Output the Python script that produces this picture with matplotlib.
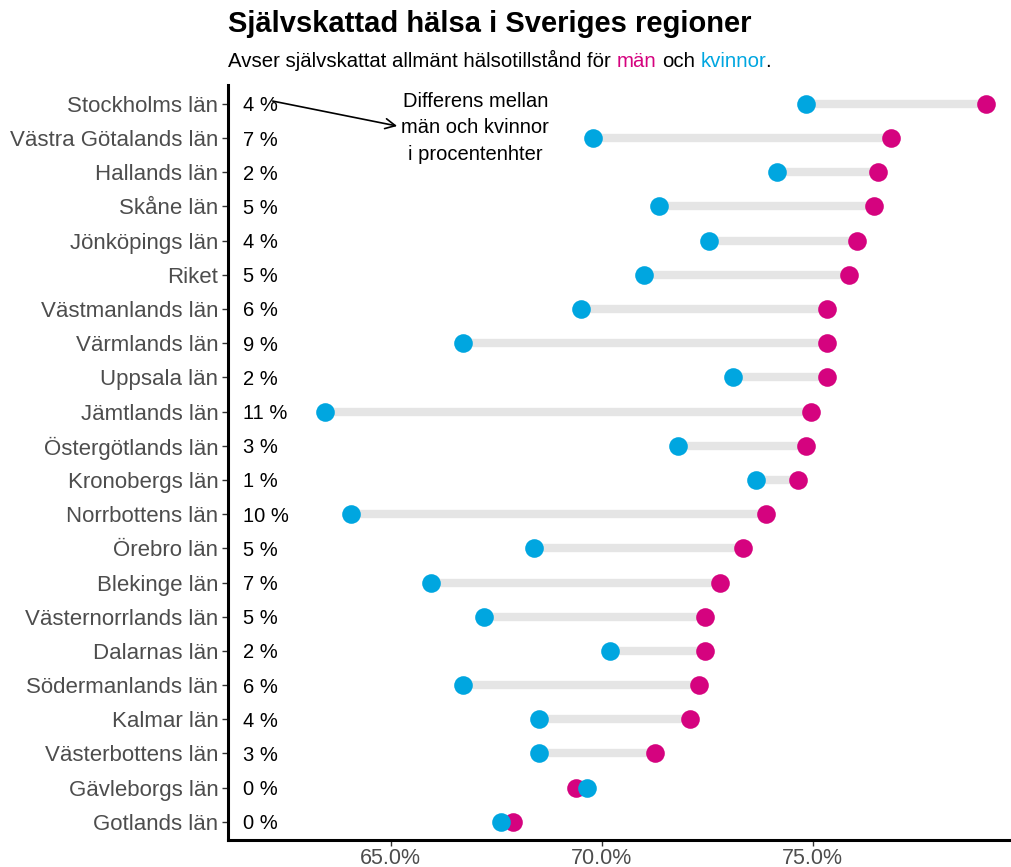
import matplotlib

matplotlib.use("Agg")
import matplotlib.pyplot as plt

plt.rcParams["font.family"] = ["Liberation Sans", "DejaVu Sans"]

# top to bottom, as in the chart
REGIONS = [
    "Stockholms län", "Västra Götalands län", "Hallands län", "Skåne län",
    "Jönköpings län", "Riket", "Västmanlands län", "Värmlands län",
    "Uppsala län", "Jämtlands län", "Östergötlands län", "Kronobergs län",
    "Norrbottens län", "Örebro län", "Blekinge län", "Västernorrlands län",
    "Dalarnas län", "Södermanlands län", "Kalmar län", "Västerbottens län",
    "Gävleborgs län", "Gotlands län",
]
MEN = [79.1, 76.85, 76.55, 76.45, 76.05, 75.85, 75.35, 75.35, 75.35, 74.95,
       74.85, 74.65, 73.9, 73.35, 72.8, 72.45, 72.45, 72.3, 72.1, 71.25,
       69.4, 67.9]
WOMEN = [74.85, 69.8, 74.15, 71.35, 72.55, 71.0, 69.5, 66.7, 73.1, 63.45,
         71.8, 73.65, 64.05, 68.4, 65.95, 67.2, 70.2, 66.7, 68.5, 68.5,
         69.65, 67.6]
DIFF = [4, 7, 2, 5, 4, 5, 6, 9, 2, 11, 3, 1, 10, 5, 7, 5, 2, 6, 4, 3, 0, 0]
X_TICKS = [65, 70, 75]

PINK = "#D5037F"
BLUE = "#00A6E0"
GREY_TEXT = "#4D4D4D"


def text_width(fig, renderer, s, size):
    t = fig.text(0, 0, s, fontsize=size)
    w = t.get_window_extent(renderer=renderer).width
    t.remove()
    return w


def main():
    fig = plt.figure(figsize=(10.11, 8.67), dpi=100)
    ax = fig.add_axes([228 / 1011, 1 - 840 / 867, 783 / 1011, 755 / 867])

    n = len(REGIONS)
    ys = [n - i for i in range(n)]

    ax.hlines(ys, WOMEN, MEN, color="#E5E5E5", linewidth=6, zorder=1)
    ax.scatter(MEN, ys, s=180, color=PINK, zorder=2, linewidths=0)
    ax.scatter(WOMEN, ys, s=180, color=BLUE, zorder=3, linewidths=0)

    for y, d in zip(ys, DIFF):
        ax.text(61.5, y, f"{d} %", ha="left", va="center_baseline",
                fontsize=14.5, color="black")

    ax.text(67.0, 21.3, "Differens mellan\nmän och kvinnor\ni procentenhter",
            ha="center", va="center", fontsize=14.5, linespacing=1.5)
    ax.annotate("", xy=(65.15, 21.35), xytext=(62.2, 22.08),
                arrowprops=dict(arrowstyle="->", color="black", lw=1.2,
                                mutation_scale=18, shrinkA=0, shrinkB=0))

    ax.set_xlim(61.14, 79.7)
    ax.set_ylim(0.47, n + 0.55)
    ax.set_yticks(ys, labels=REGIONS)
    ax.set_xticks(X_TICKS, labels=[f"{t:.1f}%" for t in X_TICKS])
    ax.tick_params(axis="y", labelsize=16, labelcolor=GREY_TEXT, color="#333333",
                   length=4, width=1, pad=3)
    ax.tick_params(axis="x", labelsize=15.5, labelcolor=GREY_TEXT, color="#333333",
                   length=4, width=1, pad=2)
    for side in ["top", "right"]:
        ax.spines[side].set_visible(False)
    for side in ["left", "bottom"]:
        ax.spines[side].set_linewidth(2.2)
        ax.spines[side].set_color("black")

    fig.text(228 / 1011, 1 - 24 / 867, "Självskattad hälsa i Sveriges regioner",
             fontsize=21, fontweight="bold", ha="left", va="center")

    # subtitle in pieces, each placed where it sits in the whole sentence
    renderer = fig.canvas.get_renderer()
    sub_size = 14.7
    x0 = 228 / 1011
    y0 = 1 - 67 / 867
    subtitle = "Avser självskattat allmänt hälsotillstånd för män och kvinnor."
    pieces = [("Avser självskattat allmänt hälsotillstånd för", "black"),
              ("män", PINK), ("och", "black"), ("kvinnor", BLUE), (".", "black")]
    pos = 0
    for piece, col in pieces:
        end = subtitle.index(piece, pos) + len(piece)
        pos = end
        start_px = (text_width(fig, renderer, subtitle[:end], sub_size)
                    - text_width(fig, renderer, piece, sub_size))
        fig.text(x0 + start_px / fig.bbox.width, y0, piece, fontsize=sub_size,
                 color=col, ha="left", va="baseline")

    fig.savefig("out.png", dpi=100)
    plt.close(fig)


if __name__ == "__main__":
    main()
